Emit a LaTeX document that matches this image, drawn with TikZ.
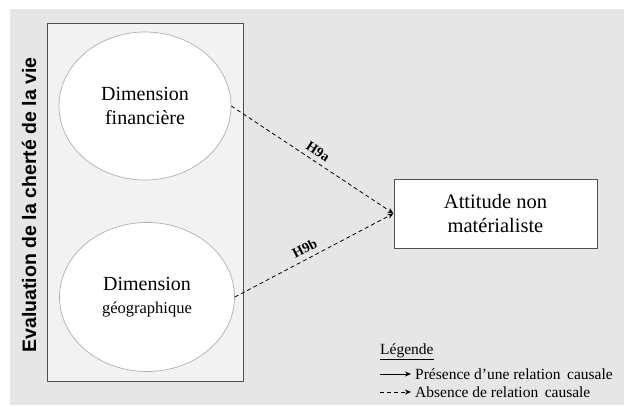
\documentclass[tikz,border=0pt]{standalone}
\usepackage{fontspec}
\setmainfont{Liberation Serif}
\newfontfamily\arialfont{Liberation Sans}
\usetikzlibrary{shapes.geometric,arrows.meta}
\definecolor{bggray}{HTML}{E6E6E6}
\definecolor{panelgray}{HTML}{F2F2F2}
\definecolor{framegray}{HTML}{505050}
\definecolor{ellgray}{HTML}{B0B0B0}
\tikzset{
  ell/.style={ellipse, draw=ellgray, line width=0.7pt, fill=white, inner sep=0pt, align=center},
  outcome/.style={rectangle, draw=framegray, line width=1pt, fill=white, align=center, inner sep=0pt},
  rel/.style={line width=0.8pt, dash pattern=on 4pt off 3pt, -{Stealth[length=6pt,width=5pt]}},
  hyp/.style={font=\fontsize{14}{15}\selectfont\bfseries, sloped, above, inner sep=5pt},
  legtext/.style={font=\fontsize{15.5}{17}\selectfont, anchor=west, inner sep=0pt},
}
\begin{document}
\begin{tikzpicture}[x=1pt,y=-1pt]
\useasboundingbox (0,0) rectangle (624,405);
\fill[bggray] (10,9) rectangle (624,405);
\node[draw=framegray, line width=1pt, fill=panelgray, minimum width=196pt, minimum height=358pt, inner sep=0pt] (panel) at (145,202) {};
\node[rotate=90, font=\arialfont\bfseries\fontsize{19.5}{22}\selectfont, inner sep=0pt] (dimlabel) at (29,205) {Evaluation de la cherté de la vie};
\node[ell, minimum width=172pt, minimum height=148pt, font=\fontsize{20}{24}\selectfont] (fin) at (145,106) {Dimension\\financière};
\node[ell, minimum width=175pt, minimum height=149pt, font=\fontsize{20}{23}\selectfont] (geo) at (147,297) {Dimension\\{\fontsize{16.5}{20}\selectfont géographique}};
\node[outcome, minimum width=203pt, minimum height=69pt, font=\fontsize{20.5}{24}\selectfont] (att) at (495.5,213.5) {Attitude non\\matérialiste};
\draw[rel] (fin.east) -- node[hyp, pos=0.5] {H9a} (att.west);
\draw[rel] (geo.east) -- node[hyp, pos=0.47] {H9b} (att.west);
% legend
\node[legtext] (leg) at (380,352) {\underline{Légende}};
\node[legtext] (pres) at (415,374) {Présence d’une relation\, causale};
\node[legtext] (abs) at (415,392) {Absence de relation\, causale};
\coordinate (p1) at (380,374);
\coordinate (a1) at (380,392);
\draw[line width=0.8pt, -{Stealth[length=6pt,width=5pt]}] (p1) -- ([xshift=-4pt]pres.west);
\draw[line width=0.8pt, dash pattern=on 4pt off 3pt, -{Stealth[length=6pt,width=5pt]}] (a1) -- ([xshift=-4pt]abs.west);
\end{tikzpicture}
\end{document}
